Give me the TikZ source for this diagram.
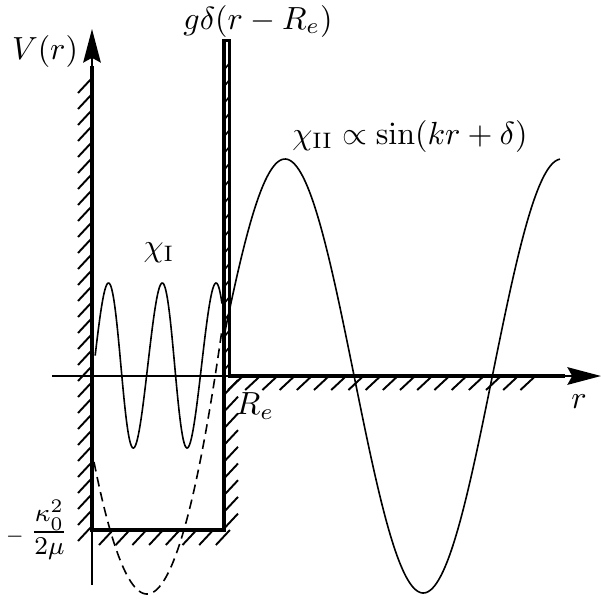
\documentclass[tikz,border=0pt]{standalone}
\usetikzlibrary{arrows.meta}
\begin{document}
\begin{tikzpicture}[x=0.3125pt,y=-0.3125pt,
  wall/.style={line width=1.2pt,line join=miter},
  axisline/.style={line width=0.6pt,-{Stealth[length=10.5pt,width=5.5pt,inset=1.5pt]}},
  hatch/.style={line width=0.6pt},
  wave/.style={line width=0.5pt}]
\useasboundingbox (0,0) rectangle (601,599);
% hatching
\foreach \y in {78,94,...,530} \draw[hatch] (92,\y) -- ++(-14,15);
\foreach \x in {113,129.7,...,231} \draw[hatch] (\x,530) -- ++(-14,15);
\foreach \y in {395,411.7,...,530} \draw[hatch] (224,\y) -- ++(14,-15);
\foreach \x in {243,260.2,...,536} \draw[hatch] (\x,376) -- ++(-15,14);
\foreach \y in {63,79.7,...,365} \draw[line width=0.5pt] (229.5,\y) -- ++(-5.5,7);
% axes
\draw[axisline] (52,376) -- (601,376);
\draw[axisline] (92,585) -- (92,29);
% walls and barrier
\draw[wall] (92,66) -- (92,530) -- (224,530) -- (224,40.5) -- (229.5,40.5) -- (229.5,376) -- (565,376);
% wave functions
\draw[wave] plot[domain=0.12:14.86,samples=240,smooth,variable=\t]
  ({94+8.56*\t+1.05*sin(deg(\t))},{365.5-82.5*sin(deg(\t))});
\draw[wave] plot[domain=223:560,samples=200,smooth,variable=\x]
  (\x,{376-217*cos(deg((\x-285)/44))});
\draw[wave,dash pattern=on 3pt off 1.8pt] plot[domain=94:222,samples=100,smooth,variable=\x]
  (\x,{594-0.047*(\x-147)^2});
% labels
\node (lV) at (45,51) {$V(r)$};
\node (lg) at (258,21) {$g\delta(r-R_e)$};
\node (lII) at (410,136) {$\chi_{\mathrm{II}}\propto\sin(kr+\delta)$};
\node (lI) at (159,253) {$\chi_{\mathrm{I}}$};
\node (lR) at (255,406) {$R_e$};
\node (lr) at (579,402) {$r$};
\node[inner sep=0pt] (lk) at (37,530) {\fontsize{12}{14}\selectfont${\scriptscriptstyle-}\,\frac{\kappa_0^2}{2\mu}$};
\end{tikzpicture}
\end{document}
